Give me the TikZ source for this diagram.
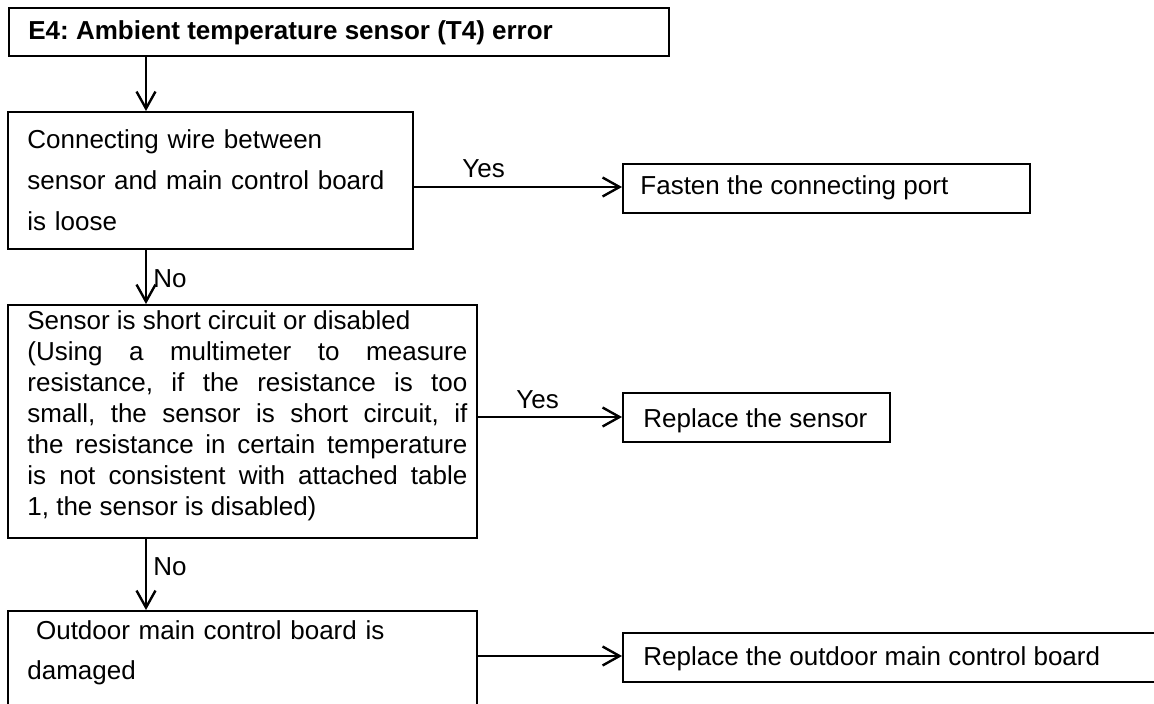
\documentclass[tikz,border=0pt]{standalone}
\usepackage{fontspec}
\setmainfont{Liberation Sans}
\usetikzlibrary{arrows.meta,calc}
\frenchspacing
\begin{document}
\begin{tikzpicture}[x=0.5pt,y=-0.5pt,
  box/.style={draw, line width=0.85pt, inner sep=0pt, anchor=north west, fill=white},
  txt/.style={inner sep=0pt, anchor=base west, font=\fontsize{13pt}{15.5pt}\selectfont},
  ptxt/.style={inner sep=0pt, anchor=north west},
  link/.style={line width=1.2pt, -{Straight Barb[length=8.5pt,width=9.5pt,line width=1.2pt]}}
]
\path[use as bounding box] (0,0) rectangle (1154,704);
\clip (0,0) rectangle (1154,704);
\fill[white] (0,0) rectangle (1154,704);

% boxes
\node[box, minimum width=330pt, minimum height=24pt] (b1) at (8,7) {};
\node[box, minimum width=202.5pt, minimum height=68.5pt] (b2) at (7,111) {};
\node[box, minimum width=203.5pt, minimum height=24.5pt] (b3) at (622,163) {};
\node[box, minimum width=234.5pt, minimum height=116.5pt] (b4) at (7,304) {};
\node[box, minimum width=133.5pt, minimum height=24.5pt] (b5) at (622,392) {};
\node[box, minimum width=234.5pt, minimum height=60pt] (b6) at (7,610) {};
\node[box, minimum width=280pt, minimum height=24.5pt] (b7) at (622,632) {};

% texts
\node[txt, font=\fontsize{13pt}{15.5pt}\selectfont\bfseries] (t1) at (28,40) {E4: Ambient temperature sensor (T4) error};
\node[ptxt, text width=200pt, align=left, font=\fontsize{13pt}{20.5pt}\selectfont] (t2) at (27,128)
  {\rule{0pt}{10pt}Connecting wire between\\ sensor and main control board\\ is loose};
\node[txt] (t3) at (640,195) {Fasten the connecting port};
\node[ptxt, text width=220pt, align=justify, font=\fontsize{13pt}{15.5pt}\selectfont] (t4) at (27,309)
  {\hyphenpenalty=10000\rule{0pt}{10pt}Sensor is short circuit or disabled\\
   (Using a multimeter to measure\linebreak
   resistance, if the resistance is too\linebreak
   small, the sensor is short circuit, if\linebreak
   the resistance in certain temperature\linebreak
   is not consistent with attached table\linebreak
   1, the sensor is disabled)};
\node[txt] (t5) at (643,428) {Replace the sensor};
\node[ptxt, text width=220pt, align=left, font=\fontsize{13pt}{20pt}\selectfont] (t6) at (27,619)
  {\rule{0pt}{10pt}\ Outdoor main control board is\\ damaged};
\node[txt] (t7) at (643,665) {Replace the outdoor main control board};

% connectors
\coordinate (axis) at (146,0);
\coordinate (r1) at (0,187);
\coordinate (r2) at (0,417);
\coordinate (r3) at (0,656);
\draw[link] (b1.south -| axis) -- (b2.north -| axis);
\draw[link] (b2.south -| axis) -- (b4.north -| axis);
\draw[link] (b4.south -| axis) -- (b6.north -| axis);
\draw[link] (b2.east |- r1) -- (b3.west |- r1);
\draw[link] (b4.east |- r2) -- (b5.west |- r2);
\draw[link] (b6.east |- r3) -- (b7.west |- r3);

% labels
\node[txt] (y1) at (462,178) {Yes};
\node[txt] (y2) at (516,409) {Yes};
\node[txt] (n1) at (153,288) {No};
\node[txt] (n2) at (153,575) {No};
\end{tikzpicture}
\end{document}
